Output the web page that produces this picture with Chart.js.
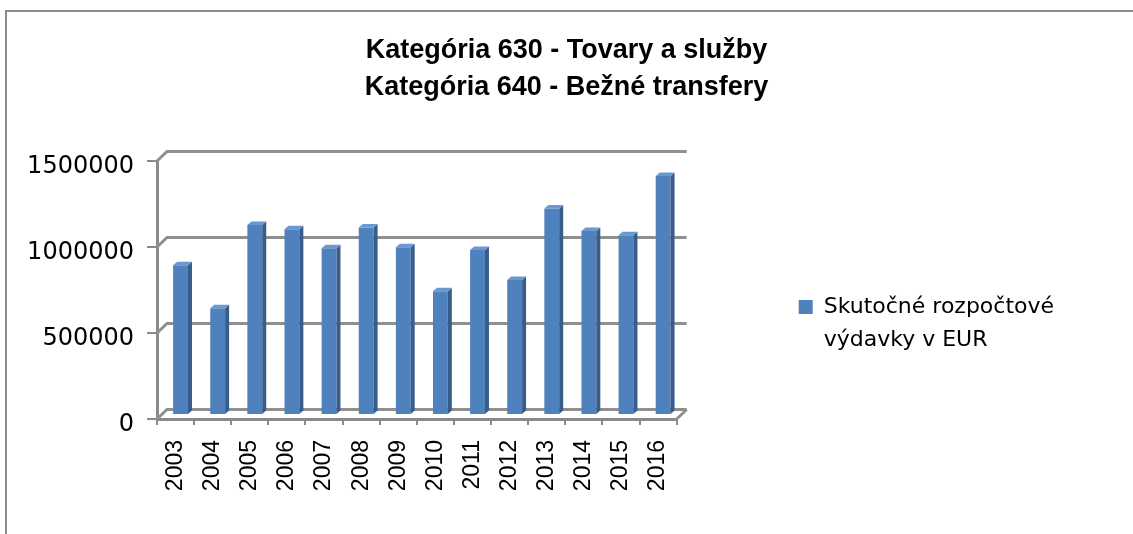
<!DOCTYPE html>
<html>
<head>
<meta charset="utf-8">
<script src="https://cdn.jsdelivr.net/npm/chart.js@4.4.1/dist/chart.umd.min.js"></script>
<style>
  html, body { margin: 0; padding: 0; background: #fff; }
  #wrap { position: relative; width: 1133px; height: 534px; overflow: hidden; }
  #frame { position: absolute; left: 5px; top: 10px; width: 1200px; height: 600px;
           border-top: 2px solid #8c8c8c; border-left: 2px solid #8c8c8c; }
  #chart { position: absolute; left: 0; top: 0; }
</style>
</head>
<body>
<div id="wrap">
  <div id="frame"></div>
  <canvas id="chart" width="1133" height="534"></canvas>
</div>
<script>
// data
var years = ['2003', '2004', '2005', '2006', '2007', '2008', '2009',
             '2010', '2011', '2012', '2013', '2014', '2015', '2016'];
var spending = [870000, 620000, 1105000, 1080000, 970000, 1090000, 975000,
                720000, 960000, 785000, 1200000, 1070000, 1045000, 1390000];
var yTicks = [0, 500000, 1000000, 1500000];
var titleLines = ['Kategória 630 - Tovary a služby', 'Kategória 640 - Bežné transfery'];
// trailing nbsp keep the legend box as wide as the excel one
var seriesLabel = ['Skutočné rozpočtové\u00a0\u00a0\u00a0\u00a0\u00a0\u00a0\u00a0', 'výdavky v EUR'];

var gray = '#8a8a8a';
var barFront = '#4f81bd', barSide = '#385d8a', barTop = '#6a98d0';

// fake 3d: back wall offset, bar shift and bar depth
var wallDX = 10, wallDY = 9.5;
var barShiftX = 5, barShiftY = -4;
var barDX = 4, barDY = 3.5;

var fake3d = {
  id: 'fake3d',
  beforeDatasetsDraw: function(chart) {
    var ctx = chart.ctx, a = chart.chartArea, ys = chart.scales.y;
    ctx.save();
    ctx.strokeStyle = '#8f8f8f';
    ctx.lineWidth = 3;
    yTicks.forEach(function(v) {
      var py = ys.getPixelForValue(v);
      ctx.beginPath();
      ctx.moveTo(a.left, py);
      ctx.lineTo(a.left + wallDX, py - wallDY);
      ctx.lineTo(a.right + wallDX, py - wallDY);
      ctx.stroke();
    });
    ctx.beginPath();
    ctx.moveTo(a.right, a.bottom);
    ctx.lineTo(a.right + wallDX, a.bottom - wallDY);
    ctx.stroke();
    ctx.restore();
    ctx.save();
    ctx.translate(barShiftX, barShiftY);
  },
  afterDatasetsDraw: function(chart) {
    var ctx = chart.ctx;
    chart.getDatasetMeta(0).data.forEach(function(bar) {
      var p = bar.getProps(['x', 'y', 'base', 'width'], true);
      var l = p.x - p.width / 2, r = p.x + p.width / 2;
      ctx.fillStyle = barSide;
      ctx.beginPath();
      ctx.moveTo(r, p.y);
      ctx.lineTo(r + barDX, p.y - barDY);
      ctx.lineTo(r + barDX, p.base - barDY);
      ctx.lineTo(r, p.base);
      ctx.closePath();
      ctx.fill();
      ctx.fillStyle = barTop;
      ctx.beginPath();
      ctx.moveTo(l, p.y);
      ctx.lineTo(l + barDX, p.y - barDY);
      ctx.lineTo(r + barDX, p.y - barDY);
      ctx.lineTo(r, p.y);
      ctx.closePath();
      ctx.fill();
    });
    ctx.restore();
  }
};

new Chart(document.getElementById('chart'), {
  type: 'bar',
  data: {
    labels: years,
    datasets: [{
      label: seriesLabel,
      data: spending,
      backgroundColor: barFront,
      borderWidth: 0,
      categoryPercentage: 1,
      barPercentage: 0.4,
      clip: false
    }]
  },
  options: {
    responsive: false,
    animation: false,
    layout: { padding: { left: 20, right: 20, top: 0, bottom: 0 } },
    plugins: {
      title: {
        display: true,
        text: titleLines,
        color: '#000',
        font: { family: 'Liberation Sans', size: 27, weight: 'bold', lineHeight: 37 / 27 },
        padding: { top: 32.5, bottom: 54.5 }
      },
      legend: {
        position: 'right',
        align: 'end',
        fullSize: false,
        maxWidth: 500,
        labels: {
          boxWidth: 14,
          boxHeight: 14,
          padding: 57,
          color: '#000',
          font: { family: 'DejaVu Sans', size: 22, lineHeight: 1.5 }
        }
      },
      tooltip: { enabled: false }
    },
    scales: {
      x: {
        offset: true,
        grid: { offset: true, drawOnChartArea: false, tickLength: 6, color: gray, lineWidth: 2 },
        border: { display: true, color: gray, width: 3 },
        ticks: {
          minRotation: 90, maxRotation: 90, padding: 15, color: '#000',
          font: { family: 'Liberation Sans', size: 23 }
        },
        afterFit: function(s) { s.height = 115; }
      },
      y: {
        min: 0,
        max: 1500000,
        afterBuildTicks: function(s) { s.ticks = yTicks.map(function(v) { return { value: v }; }); },
        grid: { drawOnChartArea: false, tickLength: 10, color: gray, lineWidth: 2 },
        border: { display: true, color: gray, width: 3 },
        ticks: {
          padding: 13, labelOffset: 6, color: '#000',
          font: { family: 'DejaVu Sans', size: 24 },
          callback: function(v) { return String(v); }
        },
        afterFit: function(s) { s.width = 137; }
      },
      y2: {
        position: 'right',
        grid: { display: false },
        border: { display: false },
        ticks: { display: false },
        afterFit: function(s) { s.width = 65; }
      }
    }
  },
  plugins: [fake3d]
});
</script>
</body>
</html>
